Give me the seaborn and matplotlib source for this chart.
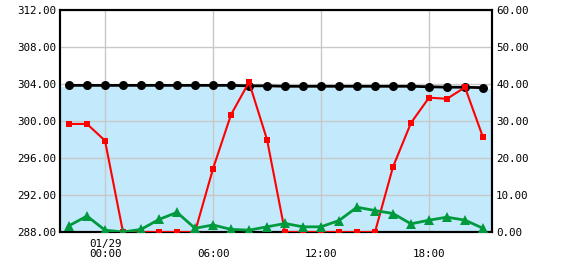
import matplotlib
matplotlib.use("Agg")
import matplotlib.pyplot as plt
import seaborn as sns
import pandas as pd

hours = list(range(-2, 22))
black_vals = [303.85, 303.85, 303.85, 303.85, 303.85, 303.85, 303.85, 303.85,
              303.85, 303.85, 303.8, 303.8, 303.75, 303.75, 303.75, 303.75,
              303.75, 303.75, 303.75, 303.75, 303.7, 303.65, 303.65, 303.6]
red_vals = [29.2, 29.2, 24.7, 0, 0, 0, 0, 0, 17.1, 31.7, 40.5, 25.0,
            0, 0, 0, 0, 0, 0, 17.6, 29.5, 36.3, 36.0, 39.1, 25.6]
green_vals = [1.7, 4.3, 0.5, 0.0, 0.7, 3.4, 5.3, 1.0, 1.9, 0.7, 0.5, 1.4,
              2.3, 1.4, 1.4, 3.1, 6.7, 5.8, 5.0, 2.2, 3.2, 4.0, 3.2, 1.0]
tick_hours = [0, 6, 12, 18]
tick_labels = ["01/29\n00:00", "\n06:00", "\n12:00", "\n18:00"]
left_ticks = [288, 292, 296, 300, 304, 308, 312]
right_ticks = [0, 10, 20, 30, 40, 50, 60]

df = pd.DataFrame({"hour": hours, "black": black_vals, "red": red_vals, "green": green_vals})

sns.set_style("white")
plt.rcParams["font.family"] = ["DejaVu Sans Mono"]

fig = plt.figure(figsize=(5.7, 2.7), dpi=100)
ax = fig.add_axes([60/570, 1-232/270, (492-60)/570, (232-10)/270])
xlim = (-2.5, 21.5)
ylim = (288, 312)

# blue fill under black line
fx = [xlim[0]] + hours + [xlim[1]]
fy = [black_vals[0]] + black_vals + [black_vals[-1]]
ax.fill_between(fx, ylim[0], [v - 0.1 for v in fy], color="#C2EAFC", lw=0, zorder=1)

sns.lineplot(data=df, x="hour", y="black", ax=ax, color="black", lw=2,
             marker="o", markersize=6.5, markeredgewidth=0, zorder=3)
ax.set_xlim(*xlim)
ax.set_ylim(*ylim)
ax.set_yticks(left_ticks)
ax.set_yticklabels([f"{v:.2f}" for v in left_ticks])
ax.set_xticks(tick_hours)
ax.set_xticklabels(tick_labels, linespacing=0.95)
ax.set_xlabel("")
ax.set_ylabel("")

ax2 = ax.twinx()
sns.lineplot(data=df, x="hour", y="red", ax=ax2, color="#FF0000", lw=1.5,
             marker="s", markersize=5, markeredgewidth=0, zorder=3)
sns.lineplot(data=df, x="hour", y="green", ax=ax2, color="#009A3E", lw=2,
             marker="^", markersize=7, markeredgewidth=0, zorder=3)
ax2.set_ylim(0, 60)
ax2.set_xlim(*xlim)
ax2.set_yticks(right_ticks)
ax2.set_yticklabels([f"{v:.2f}" for v in right_ticks])
ax2.set_ylabel("")
ax2.grid(False)

ax.xaxis.grid(True, color="#C8C8C8", lw=1)
ax.yaxis.grid(True, color="#C8C8C8", lw=1)
ax.set_axisbelow("line")

for a in (ax, ax2):
    for s in a.spines.values():
        s.set_color("black")
        s.set_linewidth(1.5)
        s.set_visible(True)
    a.tick_params(length=0, labelsize=7.8, colors="black", pad=3)
ax.tick_params(axis="x", pad=5)

fig.savefig("out.png", dpi=100)
